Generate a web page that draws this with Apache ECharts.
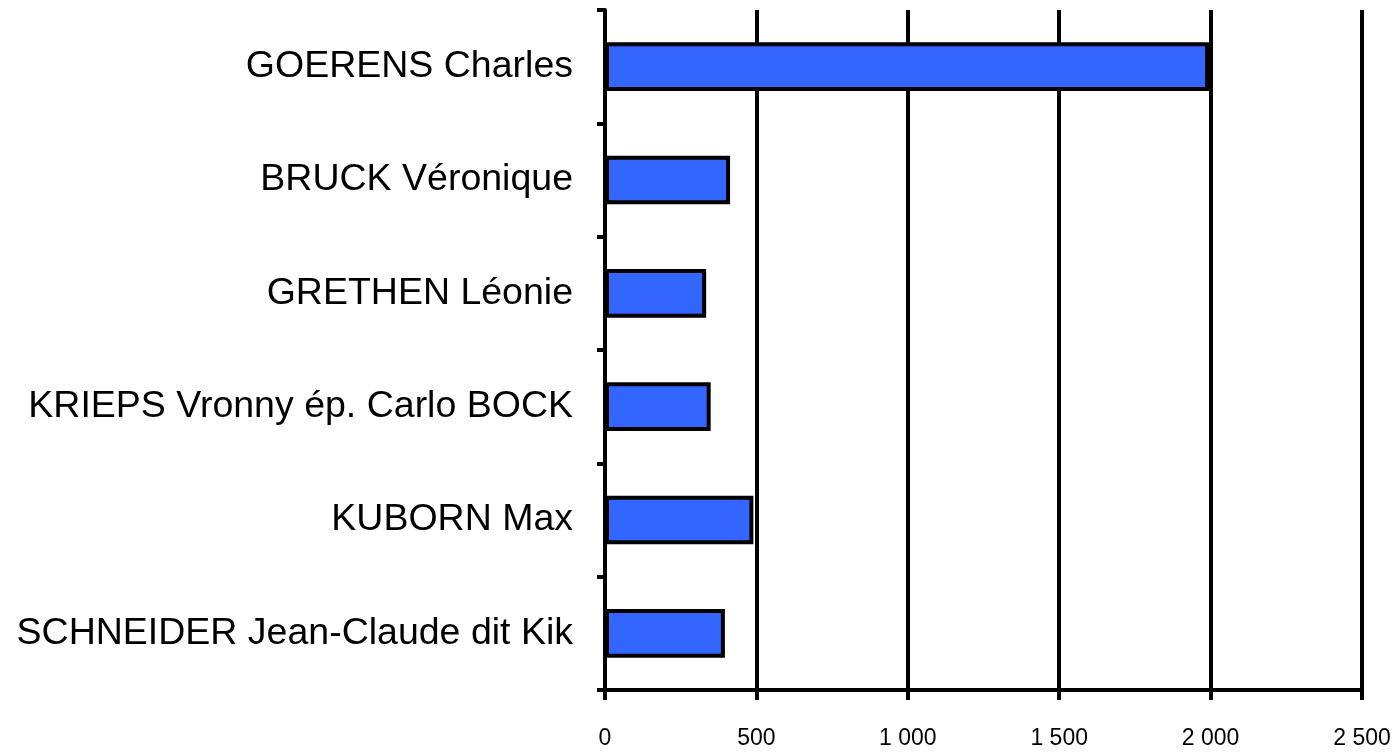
<!DOCTYPE html>
<html lang="fr">
<head>
    <meta charset="UTF-8">
    <title>Candidats</title>
    <script src="https://cdn.jsdelivr.net/npm/echarts@6/dist/echarts.min.js"></script>
    <style>
        html, body {
            margin: 0;
            padding: 0;
            width: 100%;
            height: 100%;
            background: #fff;
        }
        #chart {
            width: 1398px;
            height: 752px;
        }
    </style>
</head>
<body>
<div id="chart"></div>
<script>
    // Candidate names, top to bottom
    var names = [
        'GOERENS Charles',
        'BRUCK Véronique',
        'GRETHEN Léonie',
        'KRIEPS Vronny ép. Carlo BOCK',
        'KUBORN Max',
        'SCHNEIDER Jean-Claude dit Kik'
    ];
    // Votes
    var votes = [1995, 413, 334, 349, 490, 396];

    var chart = echarts.init(document.getElementById('chart'));

    // "1 000" style thousands separator
    function fmt(v) {
        return String(v).replace(/\B(?=(\d{3})+(?!\d))/g, ' ');
    }

    chart.setOption({
        animation: false,
        backgroundColor: '#fff',
        grid: { left: 605, right: 36, top: 10, bottom: 62 },
        xAxis: {
            type: 'value',
            min: 0,
            max: 2500,
            interval: 500,
            axisLine: { show: true, lineStyle: { color: '#000', width: 4 } },
            axisTick: { show: true, length: 10, lineStyle: { color: '#000', width: 4 } },
            splitLine: { show: true, lineStyle: { color: '#000', width: 4 } },
            axisLabel: {
                color: '#000',
                fontFamily: 'Liberation Sans, Arial, sans-serif',
                fontSize: 23,
                margin: 37,
                formatter: fmt
            }
        },
        yAxis: {
            type: 'category',
            data: names,
            inverse: true,
            axisLine: { show: true, lineStyle: { color: '#000', width: 4 } },
            axisTick: { show: true, length: 8, lineStyle: { color: '#000', width: 4 } },
            axisLabel: {
                color: '#000',
                fontFamily: 'Liberation Sans, Arial, sans-serif',
                fontSize: 37.5,
                margin: 32
            }
        },
        series: [{
            type: 'bar',
            data: votes,
            barWidth: '43%',
            itemStyle: {
                color: '#3366FF',
                borderColor: '#000',
                borderWidth: 4
            }
        }]
    });
</script>
</body>
</html>
